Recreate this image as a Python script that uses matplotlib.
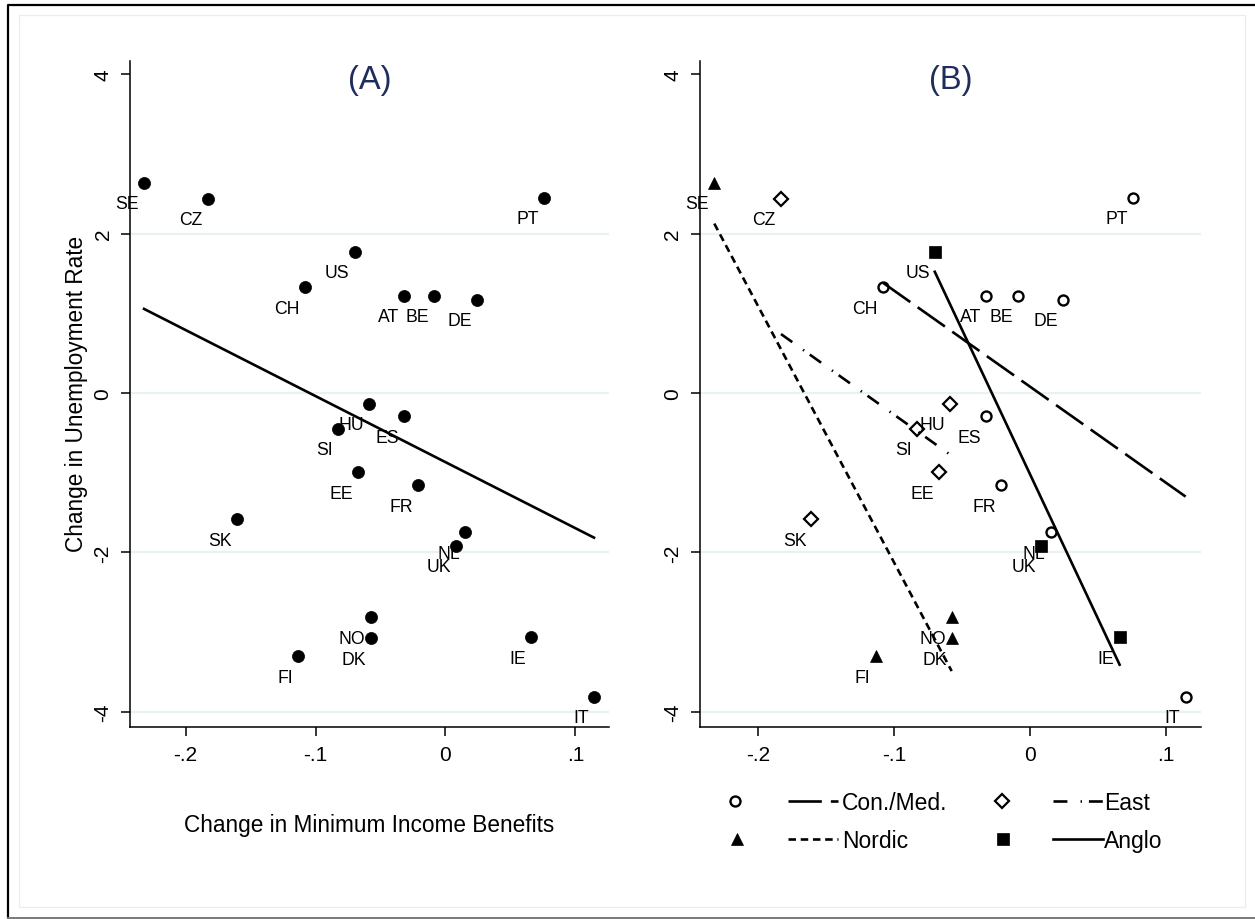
import numpy as np
import matplotlib
matplotlib.use("Agg")
import matplotlib.pyplot as plt
from matplotlib.lines import Line2D
from matplotlib.patches import Rectangle

# ---------------- data ----------------
countries = ['SE', 'CZ', 'PT', 'US', 'CH', 'AT', 'BE', 'DE', 'HU', 'ES', 'SI',
             'EE', 'FR', 'SK', 'NL', 'UK', 'NO', 'DK', 'FI', 'IE', 'IT']
benefit_change = [-0.232, -0.183, 0.076, -0.070, -0.108, -0.032, -0.009, 0.024,
                  -0.0585, -0.032, -0.083, -0.067, -0.0214, -0.1606, 0.0152,
                  0.0082, -0.0576, -0.0576, -0.1134, 0.0658, 0.1143]
unemp_change = [2.64, 2.44, 2.45, 1.775, 1.327, 1.222, 1.222, 1.172, -0.134,
                -0.294, -0.448, -0.993, -1.156, -1.588, -1.751, -1.918, -2.814,
                -3.074, -3.30, -3.065, -3.81]
regime = ['Nordic', 'East', 'Con./Med.', 'Anglo', 'Con./Med.', 'Con./Med.',
          'Con./Med.', 'Con./Med.', 'East', 'Con./Med.', 'East', 'East',
          'Con./Med.', 'East', 'Con./Med.', 'Anglo', 'Nordic', 'Nordic',
          'Nordic', 'Anglo', 'Con./Med.']
x_ticks = [-0.2, -0.1, 0.0, 0.1]
x_tick_labels = ['-.2', '-.1', '0', '.1']
y_ticks = [-4, -2, 0, 2, 4]
y_tick_labels = ['-4', '-2', '0', '2', '4']
regime_order = ['Con./Med.', 'East', 'Nordic', 'Anglo']

# ---------------- styles ----------------
plt.rcParams['font.family'] = ['Liberation Sans', 'DejaVu Sans']
plt.rcParams['lines.scale_dashes'] = False

W, H = 1255, 920
fig = plt.figure(figsize=(W / 100, H / 100), dpi=100)

def fx(px):
    return px / W

def fy(py):
    return 1 - py / H

XLIM = (-0.2425, 0.1256)
YLIM = (-4.196, 4.17)
TITLE_COLOR = '#1f2d5c'
GRID_COLOR = '#e9f1f3'
FIT_LW = 1.9

marker_style = {
    'Con./Med.': dict(marker='o', ms=7.2, mfc='none', mec='black', mew=1.7),
    'East': dict(marker='D', ms=7.0, mfc='none', mec='black', mew=1.6),
    'Nordic': dict(marker='^', ms=9, mfc='black', mec='black', mew=0.5),
    'Anglo': dict(marker='s', ms=8.3, mfc='black', mec='black', mew=0.5),
}
line_style = {
    'Con./Med.': (0, (24, 6.5)),
    'East': (0, (10, 9.5, 1, 5)),
    'Nordic': (0, (5.4, 3.4)),
    'Anglo': '-',
}


def make_axes(left, right, top, bottom):
    ax = fig.add_axes([fx(left), fy(bottom), fx(right) - fx(left), (bottom - top) / H])
    ax.set_xlim(*XLIM)
    ax.set_ylim(*YLIM)
    for s in ['top', 'right']:
        ax.spines[s].set_visible(False)
    for s in ['left', 'bottom']:
        ax.spines[s].set_linewidth(1.1)
    ax.set_xticks(x_ticks)
    ax.set_xticklabels(x_tick_labels)
    ax.set_yticks(y_ticks)
    ax.set_yticklabels(y_tick_labels, rotation=90, va='center')
    ax.tick_params(axis='both', direction='out', length=6.3, width=1.1,
                   labelsize=15, pad=6.5)
    ax.yaxis.grid(True, color=GRID_COLOR, lw=1.6)
    ax.set_axisbelow(True)
    gl = ax.get_ygridlines()
    gl[-1].set_visible(False)
    return ax


def label_points(ax):
    for c, xv, yv in zip(countries, benefit_change, unemp_change):
        ax.annotate(c, (xv, yv), xytext=(-3.7, -18.5), textcoords='offset points',
                    ha='right', va='baseline', fontsize=12.7, zorder=4)


x = np.array(benefit_change)
y = np.array(unemp_change)
reg = np.array(regime)

# ---------------- panel A ----------------
axA = make_axes(130.4, 608.7, 61.7, 728.3)
axA.plot(x, y, linestyle='none', marker='o', ms=8.7, mfc='black', mec='black',
         mew=0.5, zorder=3)
bA = np.polyfit(x, y, 1)
xs = np.array([x.min(), x.max()])
axA.plot(xs, np.polyval(bA, xs), color='black', lw=FIT_LW, zorder=2)
label_points(axA)
axA.text(0.5, 1 - (81 - 61.7) / 666.6, '(A)', transform=axA.transAxes,
         ha='center', va='center', fontsize=23.5, color=TITLE_COLOR)

fig.text(fx(369.5), fy(832.3), 'Change in Minimum Income Benefits',
         ha='center', va='baseline', fontsize=16.3)
fig.text(fx(77), fy(394.2), 'Change in Unemployment Rate', rotation=90,
         ha='center', va='center', fontsize=16.3)

# ---------------- panel B ----------------
axB = make_axes(700, 1201, 61.7, 728.3)
for g in regime_order:
    m = reg == g
    axB.plot(x[m], y[m], linestyle='none', zorder=3, **marker_style[g])
    b = np.polyfit(x[m], y[m], 1)
    xs = np.array([x[m].min(), x[m].max()])
    axB.plot(xs, np.polyval(b, xs), color='black', lw=FIT_LW,
             linestyle=line_style[g], zorder=2)
label_points(axB)
axB.text(0.5, 1 - (81 - 61.7) / 666.6, '(B)', transform=axB.transAxes,
         ha='center', va='center', fontsize=23.5, color=TITLE_COLOR)

# ---------------- legend (panel B) ----------------
legend_layout = [
    ('Con./Med.', 735, 788, 838, 842, 802),
    ('East', 1002, 1053, 1103, 1104, 802),
    ('Nordic', 737, 788, 838, 842, 840),
    ('Anglo', 1003, 1053, 1103, 1104, 840),
]
for g, mx, l0, l1, tx, ry in legend_layout:
    fig.add_artist(Line2D([fx(mx)], [fy(ry)], transform=fig.transFigure,
                          linestyle='none', **marker_style[g]))
    fig.add_artist(Line2D([fx(l0), fx(l1)], [fy(ry), fy(ry)],
                          transform=fig.transFigure, color='black', lw=FIT_LW,
                          linestyle=line_style[g]))
    fig.text(fx(tx), fy(ry + 8), g, ha='left', va='baseline', fontsize=16.5)

# ---------------- frame ----------------
fig.add_artist(Rectangle((fx(19.3), fy(908.3)), fx(1245) - fx(19.3),
                         (908.3 - 15.7) / H, transform=fig.transFigure,
                         fill=False, ec='#e6eef2', lw=0.9))
fig.add_artist(Line2D([fx(7.7), fx(7.7), fx(1255)], [fy(920), fy(6), fy(6)],
                      transform=fig.transFigure, color='black', lw=1.6))
fig.add_artist(Line2D([fx(7.7), fx(1255)], [fy(919), fy(919)],
                      transform=fig.transFigure, color='#7a7a7a', lw=1.4))

fig.savefig('out.png', dpi=100, facecolor='white')
